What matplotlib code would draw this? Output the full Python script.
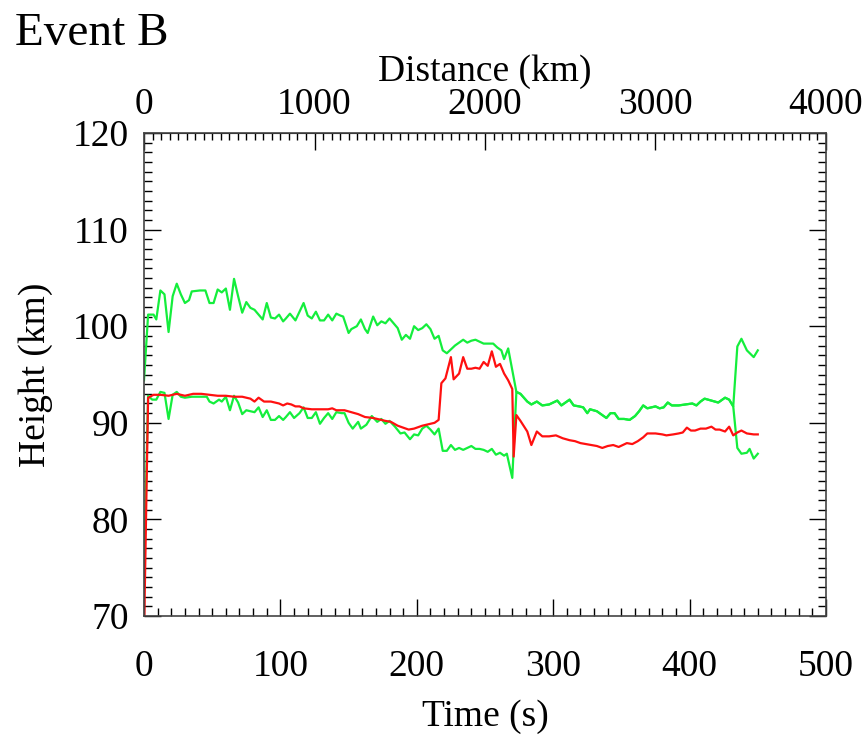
import matplotlib
matplotlib.use('Agg')
import matplotlib.pyplot as plt
from matplotlib.ticker import MultipleLocator, FixedLocator

plt.rcParams['font.family'] = ['Liberation Serif', 'DejaVu Serif']

# upper boundary (green)
t_upper = [0, 3, 7, 9, 12, 15, 18, 21, 24, 27, 30, 33, 35, 41, 45, 48, 51, 54, 57, 60,
           63, 66, 69, 72, 75, 78, 81, 84, 87, 90, 93, 96, 99, 102, 104, 107, 111, 114, 117, 120,
           123, 126, 129, 132, 135, 138, 141, 144, 146, 150, 152, 156, 159, 162, 164, 168, 171, 174, 177, 180,
           183, 186, 189, 192, 195, 198, 201, 204, 207, 210, 213, 216, 219, 222, 225, 228, 231, 234, 237, 240,
           243, 246, 249, 252, 256, 259, 262, 264, 267]
h_upper = [94.4, 101.2, 101.2, 100.7, 103.7, 103.3, 99.4, 103.1, 104.4, 103.3, 102.4, 102.7, 103.6, 103.7, 103.7, 102.4, 102.4, 103.8, 103.5, 103.9,
           101.7, 104.9, 103.1, 101.4, 102.5, 101.9, 101.7, 101.2, 100.7, 102.4, 100.9, 100.8, 101.2, 100.5, 100.8, 101.3, 100.6, 101.5, 102.4, 101.1,
           100.8, 101.5, 100.6, 100.6, 101.2, 100.6, 101.3, 101.1, 101.0, 99.3, 99.7, 100.0, 100.7, 99.7, 99.3, 101.0, 100.1, 100.5, 100.3, 100.8,
           100.3, 99.8, 98.6, 99.1, 98.7, 100.0, 99.6, 99.8, 100.2, 99.7, 98.7, 99.0, 97.5, 97.2, 97.6, 98.0, 98.3, 98.6, 98.3, 98.5,
           98.6, 98.4, 98.2, 98.2, 98.2, 97.8, 97.5, 96.6, 97.7]

# lower boundary (green)
t_lower = [0, 3, 6, 9, 12, 15, 18, 21, 24, 27, 30, 35, 41, 46, 48, 51, 55, 57, 60, 63,
           66, 69, 72, 75, 78, 81, 84, 87, 90, 93, 96, 99, 102, 104, 107, 110, 114, 117, 120, 123,
           126, 129, 132, 135, 138, 141, 145, 147, 150, 153, 157, 159, 163, 167, 171, 174, 177, 180, 184, 188,
           191, 195, 198, 201, 204, 207, 210, 213, 216, 219, 222, 225, 228, 231, 234, 237, 240, 243, 246, 249,
           252, 255, 258, 261, 264, 266, 270]
h_lower = [74.5, 92.8, 92.4, 92.4, 93.2, 93.1, 90.4, 92.9, 93.2, 92.7, 92.6, 92.7, 92.7, 92.7, 92.2, 92.0, 92.4, 92.2, 92.7, 91.3,
           92.8, 92.1, 90.9, 91.3, 91.2, 91.1, 91.6, 90.6, 91.3, 90.3, 90.3, 90.7, 90.3, 90.6, 91.1, 90.5, 91.0, 91.6, 90.5, 90.5,
           91.1, 89.9, 90.5, 91.0, 90.4, 91.1, 91.0, 91.0, 90.0, 89.4, 90.1, 89.4, 89.8, 90.7, 90.1, 90.4, 89.9, 90.2, 89.6, 88.9,
           89.0, 88.3, 88.8, 88.7, 89.4, 89.7, 89.3, 88.8, 89.4, 87.1, 87.1, 87.7, 87.2, 87.4, 87.2, 87.4, 87.6, 87.3, 87.3, 87.2,
           87.0, 87.3, 86.7, 86.9, 86.6, 86.8, 84.3]

# both boundaries coincide here
t_shared = [273, 276, 281, 284, 288, 292, 297, 303, 306, 312, 315, 319, 322, 325, 327, 332, 336, 339, 342, 345,
            348, 352, 356, 360, 363, 366, 369, 375, 378, 381, 384, 387, 392, 397, 402, 405, 408, 411, 416, 421,
            426, 429, 432]
h_shared = [93.2, 93.0, 92.2, 91.9, 92.2, 91.8, 91.9, 92.3, 91.8, 92.4, 91.8, 91.7, 91.6, 91.0, 91.4, 91.2, 90.8, 90.5, 91.0, 91.0,
            90.4, 90.4, 90.3, 90.7, 91.2, 91.8, 91.5, 91.7, 91.5, 91.6, 92.1, 91.8, 91.8, 91.9, 92.0, 91.8, 92.2, 92.5, 92.3, 92.1,
            92.6, 92.4, 91.7]

t_upper_end = [435, 438, 442, 447, 450]
h_upper_end = [97.9, 98.7, 97.5, 96.8, 97.5]
t_lower_end = [435, 438, 442, 444, 447, 450]
h_lower_end = [87.4, 86.8, 86.9, 87.3, 86.3, 86.8]

# central height (red)
t_mid = [0, 3, 7, 12, 18, 24, 30, 36, 42, 48, 54, 60, 66, 72, 78, 81, 84, 88, 93, 99,
         102, 105, 108, 111, 114, 117, 123, 129, 135, 138, 141, 147, 152, 157, 162, 168, 174, 177, 181, 186,
         190, 194, 198, 204, 210, 213, 216, 218, 221, 225, 227, 231, 234, 237, 240, 243, 246, 249, 252, 255,
         258, 261, 264, 267, 270, 271, 273, 276, 281, 284, 288, 292, 297, 302, 307, 312, 316, 320, 324, 328,
         332, 336, 340, 344, 348, 351, 354, 358, 362, 366, 369, 375, 380, 383, 388, 392, 395, 398, 401, 404,
         408, 412, 416, 419, 422, 426, 429, 432, 435, 438, 442, 447, 450]
h_mid = [68.0, 92.6, 92.9, 92.9, 92.8, 93.0, 92.8, 93.0, 93.0, 92.9, 92.8, 92.8, 92.7, 92.7, 92.5, 92.2, 92.6, 92.2, 92.2, 92.0,
         91.8, 92.0, 91.9, 91.7, 91.7, 91.5, 91.4, 91.4, 91.4, 91.5, 91.3, 91.3, 91.1, 90.9, 90.6, 90.5, 90.3, 90.2, 90.1, 89.7,
         89.5, 89.3, 89.4, 89.7, 89.9, 90.0, 90.3, 94.1, 94.6, 96.8, 94.5, 95.1, 96.8, 95.6, 95.6, 95.7, 95.6, 96.3, 95.9, 97.4,
         95.8, 96.1, 95.1, 94.4, 93.5, 86.5, 90.8, 90.2, 89.1, 87.7, 89.1, 88.6, 88.6, 88.7, 88.4, 88.2, 88.1, 87.9, 87.8, 87.7,
         87.6, 87.4, 87.6, 87.7, 87.5, 87.7, 87.9, 87.8, 88.1, 88.5, 88.9, 88.9, 88.8, 88.7, 88.8, 88.9, 89.0, 89.5, 89.2, 89.2,
         89.4, 89.4, 89.6, 89.3, 89.3, 89.1, 89.6, 88.7, 89.0, 89.2, 88.9, 88.8, 88.8]

dist_ticks = [0, 1000, 2000, 3000, 4000]
km_per_s = 8.0  # distance scale for the top axis

green = '#14ee3c'
red = '#ff1010'
fs = 27

fig = plt.figure(figsize=(8.66, 7.36), dpi=100)
ax = fig.add_axes([0.1663, 0.163, 0.7875, 0.6563])

ax.plot(t_upper + t_shared + t_upper_end, h_upper + h_shared + h_upper_end, color=green, lw=1.6)
ax.plot(t_lower + t_shared + t_lower_end, h_lower + h_shared + h_lower_end, color=green, lw=1.6)
ax.plot(t_mid, h_mid, color=red, lw=1.6)

ax.set_xlim(0, 500)
ax.set_ylim(70, 120)
ax.xaxis.set_major_locator(MultipleLocator(100))
ax.xaxis.set_minor_locator(MultipleLocator(10))
ax.yaxis.set_major_locator(MultipleLocator(10))
ax.yaxis.set_minor_locator(MultipleLocator(1))
ax.tick_params(which='both', direction='in', top=False, right=True, labelsize=fs, width=1)
ax.tick_params(which='major', length=12)
ax.tick_params(which='minor', length=6)
ax.tick_params(axis='x', pad=24)
ax.tick_params(axis='y', pad=11)
for s in ax.spines.values():
    s.set_linewidth(1.2)
    s.set_color('#444444')

ax.set_xlabel('Time (s)', fontsize=fs, labelpad=11)
ax.set_ylabel('Height (km)', fontsize=fs, labelpad=14)

top = ax.secondary_xaxis('top', functions=(lambda t: t * km_per_s, lambda d: d / km_per_s))
top.xaxis.set_major_locator(FixedLocator(dist_ticks))
top.xaxis.set_minor_locator(MultipleLocator(50))
top.tick_params(which='both', direction='in', labelsize=fs, width=1, pad=8)
top.tick_params(which='major', length=12)
top.tick_params(which='minor', length=5)
top.set_xlabel('Distance (km)', fontsize=fs, labelpad=5)

fig.text(0.017, 0.939, 'Event B', fontsize=34, ha='left', va='baseline')

fig.savefig('out.png', dpi=100)
